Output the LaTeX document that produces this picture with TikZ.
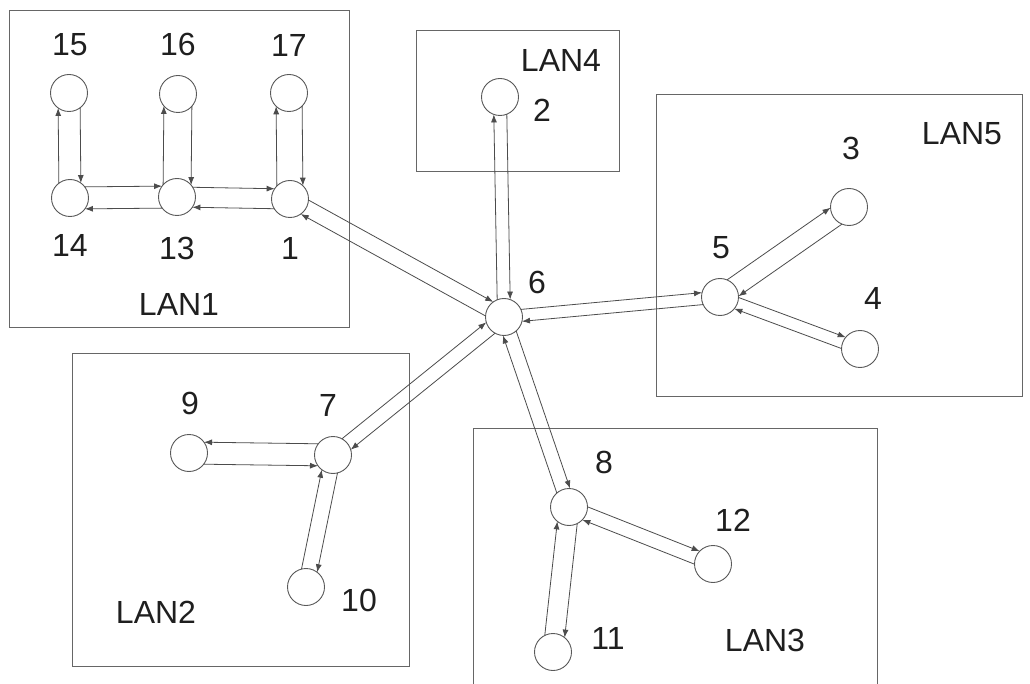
\documentclass[tikz,border=0pt]{standalone}
\usepackage{fontspec}
\setmainfont{Liberation Sans}
\usetikzlibrary{calc,arrows.meta}
\tikzset{
  host/.style={circle, draw=black!65, line width=0.9pt, minimum size=37pt, inner sep=0pt, fill=white},
  lan/.style={draw=black!60, line width=1pt},
  lbl/.style={text=black!88, font=\fontsize{32}{36}\selectfont, inner sep=0pt},
  conn/.style={draw=black!70, line width=0.8pt, -{Latex[length=8pt,width=6pt]}},
}
\newcommand\pairlink[3]{%
  \pgfmathsetmacro\shv{sqrt(18.5*18.5-(#3)*(#3))}%
  \draw[conn, shorten <=\shv pt, shorten >=\shv pt] ($(#1)!#3pt!90:(#2)$) -- ($(#2)!#3pt!-90:(#1)$);
  \draw[conn, shorten <=\shv pt, shorten >=\shv pt] ($(#2)!#3pt!90:(#1)$) -- ($(#1)!#3pt!-90:(#2)$);
}
\begin{document}
\begin{tikzpicture}[x=1pt,y=-1pt]
\path[use as bounding box, fill=white] (0,0) rectangle (1030,684);
\clip (0,0) rectangle (1030,684);
% LAN boxes
\draw[lan] (9,11) rectangle (349,328);
\draw[lan] (416,31) rectangle (619,172);
\draw[lan] (656,95) rectangle (1022,396);
\draw[lan] (72,353) rectangle (409,666);
\draw[lan] (473,700) -- (473,428) -- (877,428) -- (877,700);
% hosts
\node[host] (n15) at (69,93) {};
\node[host] (n16) at (178,94) {};
\node[host] (n17) at (289,93) {};
\node[host] (n14) at (70,198) {};
\node[host] (n13) at (177,197) {};
\node[host] (n1) at (290,199) {};
\node[host] (n2) at (500,97) {};
\node[host] (n6) at (504,317) {};
\node[host] (n3) at (849,207) {};
\node[host] (n5) at (720,297) {};
\node[host] (n4) at (860,349) {};
\node[host] (n9) at (189,453) {};
\node[host] (n7) at (333,455) {};
\node[host] (n10) at (306,587) {};
\node[host] (n8) at (569,507) {};
\node[host] (n12) at (713,564) {};
\node[host] (n11) at (553,652) {};
% labels
\node[lbl] (l15) at (70,45) {15};
\node[lbl] (l16) at (178,44) {16};
\node[lbl] (l17) at (289,45) {17};
\node[lbl] (l14) at (70,245) {14};
\node[lbl] (l13) at (177,248) {13};
\node[lbl] (l1) at (290,248) {1};
\node[lbl] (lan1) at (179,304) {LAN1};
\node[lbl] (l2) at (542,110) {2};
\node[lbl] (lan4) at (561,60) {LAN4};
\node[lbl] (l6) at (537,282) {6};
\node[lbl] (l3) at (851,148) {3};
\node[lbl] (lan5) at (962,134) {LAN5};
\node[lbl] (l5) at (721,248) {5};
\node[lbl] (l4) at (873,298) {4};
\node[lbl] (l9) at (190,403) {9};
\node[lbl] (l7) at (328,405) {7};
\node[lbl] (l10) at (359,600) {10};
\node[lbl] (lan2) at (156,612) {LAN2};
\node[lbl] (l8) at (604,462) {8};
\node[lbl] (l12) at (733,520) {12};
\node[lbl] (l11) at (608,638) {11};
\node[lbl] (lan3) at (765,640) {LAN3};
% connectors
\pairlink{n14}{n15}{11}
\pairlink{n13}{n16}{14}
\pairlink{n1}{n17}{13}
\pairlink{n14}{n13}{11}
\pairlink{n13}{n1}{10}
\pairlink{n1}{n6}{8}
\pairlink{n6}{n2}{6.5}
\pairlink{n6}{n5}{6}
\pairlink{n5}{n3}{10}
\pairlink{n5}{n4}{6}
\pairlink{n7}{n6}{7}
\pairlink{n7}{n9}{-11}
\pairlink{n7}{n10}{8}
\pairlink{n6}{n8}{7}
\pairlink{n8}{n12}{7}
\pairlink{n8}{n11}{10}
\end{tikzpicture}
\end{document}
